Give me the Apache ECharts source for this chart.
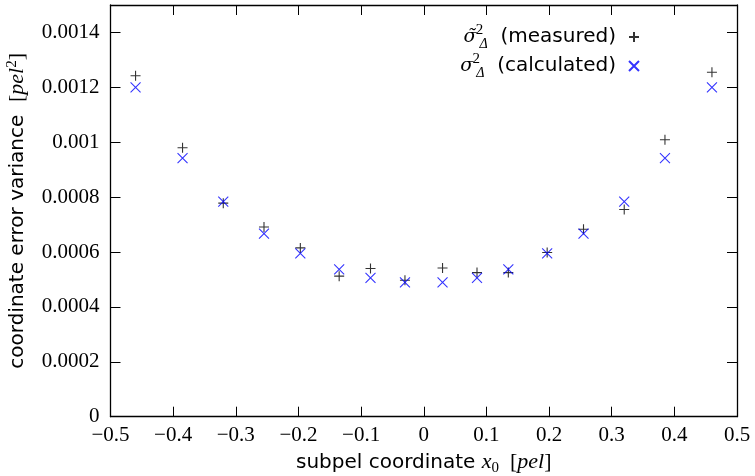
<!DOCTYPE html>
<html><head><meta charset="utf-8">
<script src="https://cdn.jsdelivr.net/npm/echarts@6/dist/echarts.min.js"></script>
<style>html,body{margin:0;padding:0;background:#fff}#c{width:755px;height:476px}</style>
</head><body><div id="c"></div>
<script>
const xPositions = [-0.46, -0.385, -0.32, -0.255, -0.197, -0.135, -0.085, -0.03, 0.03, 0.085, 0.135, 0.197, 0.255, 0.32, 0.385, 0.46];
const measured = [0.001242, 0.000980, 0.000778, 0.000691, 0.000615, 0.000512, 0.000540, 0.000497, 0.000542, 0.000525, 0.000525, 0.000598, 0.000683, 0.000755, 0.001009, 0.001255];
const calculated = [0.001200, 0.000942, 0.000784, 0.000667, 0.000595, 0.000537, 0.000506, 0.000489, 0.000489, 0.000506, 0.000537, 0.000595, 0.000667, 0.000784, 0.000942, 0.001200];
const xTicks = {min: -0.5, max: 0.5, interval: 0.1};
const yTicks = {min: 0, max: 0.0015, interval: 0.0002};

const serif = 'Liberation Serif';
const sans = 'DejaVu Sans';
const chart = echarts.init(document.getElementById('c'), null, {renderer: 'canvas'});
const plusPath = 'path://M5 0 L5 10 M0 5 L10 5';
const crossPath = 'path://M0 0 L10 10 M10 0 L0 10';
const tickStyle = {show: true, inside: true, length: 10, lineStyle: {color: '#000', width: 1}};
const lineStyle = {show: true, onZero: false, lineStyle: {color: '#000', width: 1.3}};
const richMath = {
  t: {fontFamily: sans, fontSize: 20, color: '#000'},
  m: {fontFamily: serif, fontSize: 22, color: '#000'},
  mi: {fontFamily: serif, fontStyle: 'italic', fontSize: 22, color: '#000'},
  sg: {fontFamily: 'DejaVu Serif', fontStyle: 'italic', fontSize: 19, color: '#000', lineHeight: 28},
  sp: {fontSize: 10, width: 3, lineHeight: 28},
  sub: {fontFamily: serif, fontSize: 15, color: '#000', verticalAlign: 'bottom', lineHeight: 26},
  sup: {fontFamily: serif, fontSize: 15, color: '#000', verticalAlign: 'top', lineHeight: 26},
  supz: {fontFamily: serif, fontSize: 15, color: '#000', verticalAlign: 'top', lineHeight: 28, width: 0, align: 'left'},
  subd: {fontFamily: serif, fontStyle: 'italic', fontSize: 14, color: '#000', verticalAlign: 'bottom', lineHeight: 28},
  lt: {fontFamily: sans, fontSize: 20, color: '#000', lineHeight: 28, padding: [0, 8, 0, 0]}
};
function fmtX(v){ const s = Number(v.toFixed(1)).toString(); return s.replace('-', '\u2212'); }
function fmtY(v){ if (v > 0.00145) return ''; return v === 0 ? '0' : Number(v.toFixed(4)).toString(); }

chart.setOption({
  animation: false,
  backgroundColor: '#fff',
  grid: {left: 110.5, right: 18, top: 5, bottom: 59.3, containLabel: false, outerBoundsMode: 'none'},
  legend: {
    orient: 'vertical', right: 110, top: 18, align: 'right', itemGap: 1,
    itemWidth: 10, itemHeight: 10,
    data: [{name: 'measured'}, {name: 'calculated'}],
    formatter: function(name){
      const sig = name === 'measured' ? 'σ\u0303' : 'σ';
      return '{sg|' + sig + '}{sp| }{supz|2}{subd|Δ}{lt|  (' + name + ')}';
    },
    textStyle: {rich: richMath, fontFamily: sans, fontSize: 20}
  },
  xAxis: [{
    type: 'value', min: xTicks.min, max: xTicks.max, interval: xTicks.interval, position: 'bottom',
    axisLine: lineStyle, axisTick: tickStyle, splitLine: {show: false},
    axisLabel: {formatter: fmtX, fontFamily: serif, fontSize: 21, color: '#000', margin: 8},
    name: '{t|subpel coordinate }{mi|x}{sub|0}{m|  [}{mi|pel}{m|]}', nameLocation: 'middle', nameGap: 33,
    nameTextStyle: {rich: richMath}
  }, {
    type: 'value', min: xTicks.min, max: xTicks.max, interval: xTicks.interval, position: 'top',
    axisLine: lineStyle, axisTick: tickStyle, splitLine: {show: false}, axisLabel: {show: false}
  }],
  yAxis: [{
    type: 'value', min: yTicks.min, max: yTicks.max, interval: yTicks.interval, position: 'left',
    axisLine: lineStyle, axisTick: tickStyle, splitLine: {show: false},
    axisLabel: {formatter: fmtY, fontFamily: serif, fontSize: 21, color: '#000', margin: 11},
    name: '{t|coordinate error variance  }{m|[}{mi|pel}{sup|2}{m|]}', nameLocation: 'middle', nameGap: 80,
    nameTextStyle: {rich: richMath}
  }, {
    type: 'value', min: yTicks.min, max: yTicks.max, interval: yTicks.interval, position: 'right',
    axisLine: lineStyle, axisTick: tickStyle, splitLine: {show: false}, axisLabel: {show: false}
  }],
  series: [{
    name: 'measured', type: 'scatter', xAxisIndex: 0, yAxisIndex: 0,
    symbol: plusPath, symbolSize: 10,
    itemStyle: {color: 'rgba(0,0,0,0)', borderColor: '#000', borderWidth: 1.1},
    data: xPositions.map((x, i) => [x, measured[i]])
  }, {
    name: 'calculated', type: 'scatter', xAxisIndex: 0, yAxisIndex: 0,
    symbol: crossPath, symbolSize: 10,
    itemStyle: {color: 'rgba(0,0,0,0)', borderColor: '#0000ff', borderWidth: 1.1},
    data: xPositions.map((x, i) => [x, calculated[i]])
  }]
});
</script></body></html>
